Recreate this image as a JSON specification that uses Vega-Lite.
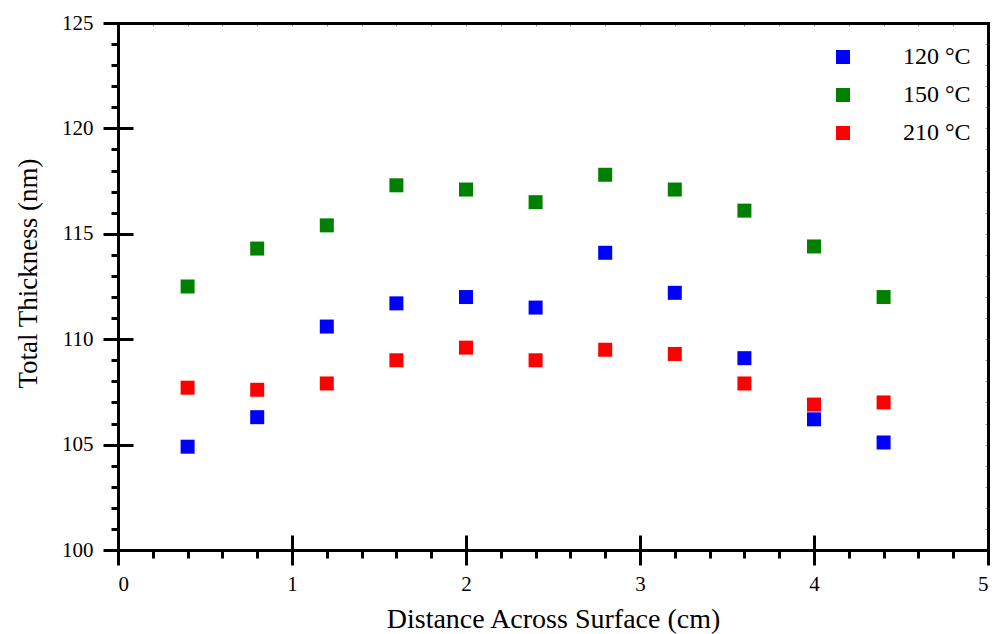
{
  "$schema": "https://vega.github.io/schema/vega-lite/v6.json",
  "width": 870,
  "height": 527,
  "autosize": {"type": "none"},
  "padding": {"left": 118, "top": 23, "right": 7, "bottom": 84},
  "config": {
    "view": {"stroke": null},
    "font": "Liberation Serif",
    "axis": {"grid": false, "labelFont": "Liberation Serif", "titleFont": "Liberation Serif", "labelColor": "#000", "titleColor": "#000", "domainColor": "#000", "tickColor": "#000", "titleFontWeight": "normal"}
  },
  "data": {
    "values": [
      {"d": 0.4, "t": 104.9, "s": "120 °C"},
      {"d": 0.8, "t": 106.3, "s": "120 °C"},
      {"d": 1.2, "t": 110.6, "s": "120 °C"},
      {"d": 1.6, "t": 111.7, "s": "120 °C"},
      {"d": 2.0, "t": 112.0, "s": "120 °C"},
      {"d": 2.4, "t": 111.5, "s": "120 °C"},
      {"d": 2.8, "t": 114.1, "s": "120 °C"},
      {"d": 3.2, "t": 112.2, "s": "120 °C"},
      {"d": 3.6, "t": 109.1, "s": "120 °C"},
      {"d": 4.0, "t": 106.2, "s": "120 °C"},
      {"d": 4.4, "t": 105.1, "s": "120 °C"},
      {"d": 0.4, "t": 112.5, "s": "150 °C"},
      {"d": 0.8, "t": 114.3, "s": "150 °C"},
      {"d": 1.2, "t": 115.4, "s": "150 °C"},
      {"d": 1.6, "t": 117.3, "s": "150 °C"},
      {"d": 2.0, "t": 117.1, "s": "150 °C"},
      {"d": 2.4, "t": 116.5, "s": "150 °C"},
      {"d": 2.8, "t": 117.8, "s": "150 °C"},
      {"d": 3.2, "t": 117.1, "s": "150 °C"},
      {"d": 3.6, "t": 116.1, "s": "150 °C"},
      {"d": 4.0, "t": 114.4, "s": "150 °C"},
      {"d": 4.4, "t": 112.0, "s": "150 °C"},
      {"d": 0.4, "t": 107.7, "s": "210 °C"},
      {"d": 0.8, "t": 107.6, "s": "210 °C"},
      {"d": 1.2, "t": 107.9, "s": "210 °C"},
      {"d": 1.6, "t": 109.0, "s": "210 °C"},
      {"d": 2.0, "t": 109.6, "s": "210 °C"},
      {"d": 2.4, "t": 109.0, "s": "210 °C"},
      {"d": 2.8, "t": 109.5, "s": "210 °C"},
      {"d": 3.2, "t": 109.3, "s": "210 °C"},
      {"d": 3.6, "t": 107.9, "s": "210 °C"},
      {"d": 4.0, "t": 106.9, "s": "210 °C"},
      {"d": 4.4, "t": 107.0, "s": "210 °C"}
    ]
  },
  "resolve": {"axis": {"x": "independent", "y": "independent"}},
  "layer": [
    {
      "mark": {"type": "point", "shape": "square", "filled": true, "size": 196, "opacity": 1},
      "encoding": {
        "x": {"field": "d", "type": "quantitative", "scale": {"domain": [0, 5], "nice": false, "zero": false},
          "axis": {"orient": "bottom", "values": [0, 1, 2, 3, 4, 5], "tickSize": 15, "tickWidth": 3, "domainWidth": 3, "domainCap": "square", "labelFontSize": 21, "labelPadding": 8, "title": "Distance Across Surface (cm)", "titleFontSize": 28, "titlePadding": 11}},
        "y": {"field": "t", "type": "quantitative", "scale": {"domain": [100, 125], "nice": false, "zero": false},
          "axis": {"orient": "left", "values": [100, 105, 110, 115, 120, 125], "tickSize": 15, "tickWidth": 3, "domainWidth": 3, "domainCap": "square", "labelFontSize": 21, "labelPadding": 10, "title": "Total Thickness (nm)", "titleFontSize": 27, "titlePadding": 19, "titleY": 250}},
        "color": {"field": "s", "type": "nominal",
          "scale": {"domain": ["120 °C", "150 °C", "210 °C"], "range": ["#0000ff", "#008000", "#ff0000"]},
          "legend": {"title": null, "orient": "none", "legendX": 713, "legendY": 22, "padding": 0, "labelFont": "Liberation Serif", "labelFontSize": 24, "labelColor": "#000", "labelOffset": 48, "rowPadding": 14, "symbolSize": 196, "symbolType": "square", "symbolStrokeWidth": 0}}
      }
    },
    {
      "mark": {"type": "point", "shape": "square", "filled": true, "opacity": 0},
      "encoding": {
        "x": {"field": "d", "type": "quantitative", "axis": {"orient": "bottom", "values": [1, 2, 3, 4], "tickSize": -15, "tickWidth": 3, "domain": false, "labels": false, "title": null}},
        "y": {"field": "t", "type": "quantitative", "axis": {"orient": "left", "values": [105, 110, 115, 120], "tickSize": -15, "tickWidth": 3, "domain": false, "labels": false, "title": null}}
      }
    },
    {
      "mark": {"type": "point", "shape": "square", "filled": true, "opacity": 0},
      "encoding": {
        "x": {"field": "d", "type": "quantitative", "axis": {"orient": "bottom", "values": [0.2, 0.4, 0.6, 0.8, 1.2, 1.4, 1.6, 1.8, 2.2, 2.4, 2.6, 2.8, 3.2, 3.4, 3.6, 3.8, 4.2, 4.4, 4.6, 4.8], "tickSize": 8, "tickWidth": 3, "domain": false, "labels": false, "title": null}},
        "y": {"field": "t", "type": "quantitative", "axis": {"orient": "left", "values": [101, 102, 103, 104, 106, 107, 108, 109, 111, 112, 113, 114, 116, 117, 118, 119, 121, 122, 123, 124], "tickSize": 7, "tickWidth": 3, "domain": false, "labels": false, "title": null}}
      }
    },
    {
      "mark": {"type": "point", "shape": "square", "filled": true, "opacity": 0},
      "encoding": {
        "x": {"field": "d", "type": "quantitative", "axis": {"orient": "top", "values": [0.2, 0.4, 0.6, 0.8, 1, 1.2, 1.4, 1.6, 1.8, 2, 2.2, 2.4, 2.6, 2.8, 3, 3.2, 3.4, 3.6, 3.8, 4, 4.2, 4.4, 4.6, 4.8], "tickSize": -3, "tickWidth": 1, "tickColor": "#999", "domainWidth": 3, "domainCap": "square", "labels": false, "title": null}},
        "y": {"field": "t", "type": "quantitative", "axis": {"orient": "right", "values": [101, 102, 103, 104, 105, 106, 107, 108, 109, 110, 111, 112, 113, 114, 115, 116, 117, 118, 119, 120, 121, 122, 123, 124], "tickSize": -3, "tickWidth": 1, "tickColor": "#999", "domainWidth": 3, "domainCap": "square", "labels": false, "title": null}}
      }
    }
  ]
}
